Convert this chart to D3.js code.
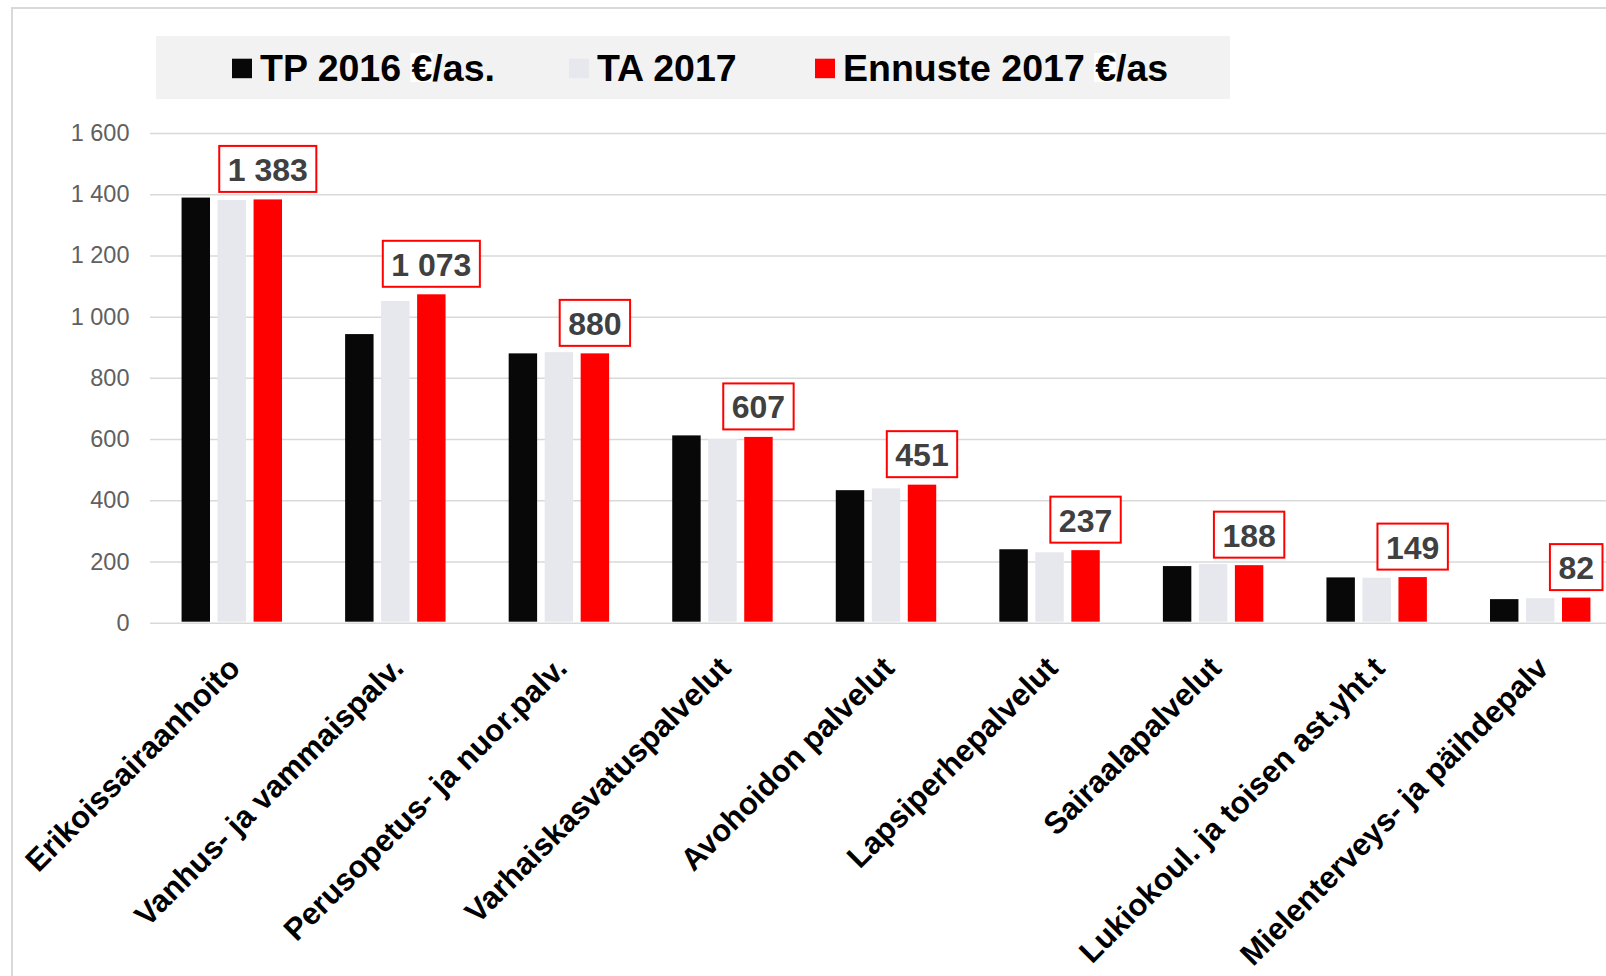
<!DOCTYPE html>
<html>
<head>
<meta charset="utf-8">
<script src="https://cdn.jsdelivr.net/npm/d3@7"></script>
<style>
  body { margin: 0; background: #fff; }
  text { font-family: "Liberation Sans", Arial, sans-serif; }
</style>
</head>
<body>
<div id="chart"></div>
<script>
// categories and series
var categories = ["Erikoissairaanhoito", "Vanhus- ja vammaispalv.", "Perusopetus- ja nuor.palv.",
  "Varhaiskasvatuspalvelut", "Avohoidon palvelut", "Lapsiperhepalvelut", "Sairaalapalvelut",
  "Lukiokoul. ja toisen ast.yht.t", "Mielenterveys- ja päihdepalv"];
var seriesNames = ["TP 2016 €/as.", "TA 2017", "Ennuste 2017 €/as"];
var tp2016 = [1389, 943, 880, 612, 433, 240, 185, 148, 77];
var ta2017 = [1381, 1051, 884, 600, 439, 230, 192, 147, 80];
var ennuste2017 = [1383, 1073, 880, 607, 451, 237, 188, 149, 82];
var yTicks = [0, 200, 400, 600, 800, 1000, 1200, 1400, 1600];
var colors = ["#080808", "#e7e8ed", "#ff0000"];

var W = 1606, H = 976;

var svg = d3.select("#chart").append("svg")
  .attr("width", W)
  .attr("height", H);

// outer frame
svg.append("rect")
  .attr("x", 12).attr("y", 8)
  .attr("width", 1700).attr("height", 1100)
  .attr("fill", "none")
  .attr("stroke", "#d9d9d9")
  .attr("stroke-width", 2);

var data = categories.map(function(c, i) {
  return {cat: c, values: [tp2016[i], ta2017[i], ennuste2017[i]]};
});

// scales
var x0 = d3.scaleBand()
  .domain(categories)
  .range([150, 1622])
  .paddingInner(0.3397)
  .paddingOuter(0.1699);

var x1 = d3.scaleBand()
  .domain([0, 1, 2])
  .range([0, x0.bandwidth()])
  .paddingInner(0.21)
  .paddingOuter(0.105);

var y = d3.scaleLinear()
  .domain([0, 1600])
  .range([622.7, 133]);

var fmt = d3.formatLocale({decimal: ",", thousands: " ", grouping: [3], currency: ["", "€"]}).format(",d");

// y axis + gridlines
var yAxis = svg.append("g")
  .attr("transform", "translate(150,0)")
  .call(d3.axisLeft(y).tickValues(yTicks).tickFormat(fmt)
    .tickSizeInner(-(x0.range()[1] - 150)).tickSizeOuter(0).tickPadding(20.5));
yAxis.select(".domain").remove();
yAxis.selectAll(".tick line")
  .attr("stroke", "#d9d9d9")
  .attr("stroke-width", 1.5);
yAxis.selectAll(".tick text")
  .attr("fill", "#606060")
  .style("font-size", "23.5px");

// bars
var groups = svg.append("g")
  .selectAll("g")
  .data(data)
  .enter().append("g")
    .attr("transform", function(d) { return "translate(" + x0(d.cat) + ",0)"; });

groups.selectAll("rect")
  .data(function(d) { return d.values; })
  .enter().append("rect")
    .attr("x", function(d, i) { return x1(i); })
    .attr("y", function(d) { return y(d); })
    .attr("width", x1.bandwidth())
    .attr("height", function(d) { return y(0) - y(d) - 1; })
    .attr("fill", function(d, i) { return colors[i]; });

// data labels for the forecast series
var labels = svg.append("g")
  .selectAll("g")
  .data(data)
  .enter().append("g");

labels.each(function(d) {
  var g = d3.select(this);
  var v = d.values[2];
  var cx = x0(d.cat) + x1(2) + x1.bandwidth() / 2;
  var bottom = y(v) - 7.5;
  var rect = g.append("rect");
  var t = g.append("text")
    .attr("x", cx)
    .attr("y", bottom - 11)
    .attr("text-anchor", "middle")
    .attr("fill", "#404040")
    .style("font-size", "32px")
    .style("font-weight", "bold")
    .text(fmt(v));
  var w = t.node().getComputedTextLength() + 17;
  rect.attr("x", cx - w / 2)
    .attr("y", bottom - 46)
    .attr("width", w)
    .attr("height", 46)
    .attr("fill", "#fff")
    .attr("stroke", "#ff0000")
    .attr("stroke-width", 2);
});

// x labels, rotated
svg.append("g")
  .selectAll("text")
  .data(categories)
  .enter().append("text")
    .attr("transform", function(d) {
      return "translate(" + (x0(d) + x0.bandwidth() / 2 + 10) + ",670) rotate(-45)";
    })
    .attr("text-anchor", "end")
    .attr("fill", "#000")
    .style("font-size", "31px")
    .style("font-weight", "bold")
    .text(function(d) { return d; });

// legend
svg.append("rect")
  .attr("x", 156).attr("y", 36)
  .attr("width", 1074).attr("height", 63)
  .attr("fill", "#f2f2f2");

var legX = [232, 569, 815];
var legend = svg.append("g")
  .selectAll("g")
  .data(seriesNames)
  .enter().append("g");

legend.append("rect")
  .attr("x", function(d, i) { return legX[i]; })
  .attr("y", 58.7)
  .attr("width", 20)
  .attr("height", 19.5)
  .attr("fill", function(d, i) { return colors[i]; });

legend.each(function(d, i) {
  var g = d3.select(this);
  var t = g.append("text")
    .attr("x", legX[i] + 28)
    .attr("y", 81)
    .attr("fill", "#000")
    .style("font-size", "37.5px")
    .style("font-weight", "bold")
    .text(d);
  // white highlight behind the euro sign
  var k = d.indexOf("€");
  if (k >= 0) {
    var ext = t.node().getExtentOfChar(k);
    g.insert("rect", "text")
      .attr("x", ext.x - 1)
      .attr("y", 53)
      .attr("width", ext.width + 1)
      .attr("height", 29)
      .attr("fill", "#fff");
  }
});
</script>
</body>
</html>
